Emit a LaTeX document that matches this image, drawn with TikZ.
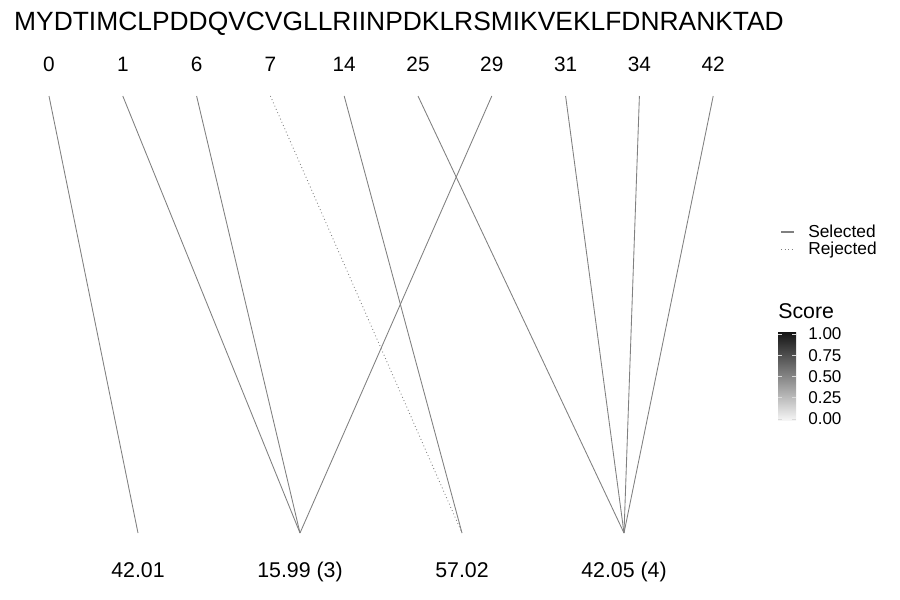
\documentclass[tikz,border=0pt]{standalone}
\usepackage{fontspec}
\setmainfont{Liberation Sans}
\usetikzlibrary{positioning}

\begin{document}
\begin{tikzpicture}[x=0.75pt,y=0.75pt,yscale=-1,xscale=1,
        link/.style={draw=black!50, line width=0.65pt},
        rejlink/.style={link, dotted},
        toplab/.style={anchor=base, inner sep=0.75pt, font=\fontsize{15.6}{18}\selectfont},
        botlab/.style={anchor=base, inner sep=0.75pt, font=\fontsize{16}{19}\selectfont},
        legtext/.style={anchor=base west, inner sep=0.75pt, font=\fontsize{13}{15}\selectfont}]
        \useasboundingbox (0,0) rectangle (900,600);
        % Text Node
        \node[anchor=base, inner sep=0pt, font=\fontsize{19.8}{23}\selectfont] (seq) at (399,30) {MYDTIMCLPDDQVCVGLLRIINPDKLRSMIKVEKLFDNRANKTAD};
        % Text Node
        \foreach \lab [count=\i from 0] in {0,1,6,7,14,25,29,31,34,42} {
            \node[toplab] (n\lab) at (49+73.8*\i,71) {\lab};
            \coordinate (p\lab) at (49+73.8*\i,96);
        }
        % Text Node
        \foreach \lab/\nm [count=\i from 0] in {42.01/a,15.99 (3)/b,57.02/c,42.05 (4)/d} {
            \node[botlab] (m\nm) at (138+162*\i,577) {\lab};
            \coordinate (q\nm) at (138+162*\i,533);
        }
        %Straight Lines
        \draw[link] (p0) -- (qa);
        \draw[link] (p1) -- (qb);
        \draw[link] (p6) -- (qb);
        \draw[link] (p29) -- (qb);
        \draw[rejlink] (p7) -- (qc);
        \draw[link] (p14) -- (qc);
        \draw[link] (p25) -- (qd);
        \draw[link] (p31) -- (qd);
        \draw[link] (p34) -- (qd);
        \draw[link] (p42) -- (qd);
        % Legend
        \coordinate (selA) at (781,232);
        \coordinate (selB) at (794,232);
        \coordinate (rejA) at (781,249);
        \coordinate (rejB) at (794,249);
        \draw[link, line width=1pt] (selA) -- (selB);
        \draw[rejlink] (rejA) -- (rejB);
        \node[legtext] (selected) at (807,237) {Selected};
        \node[legtext] (rejected) at (807,254) {Rejected};
        \node[anchor=base west, inner sep=0pt, font=\fontsize{16}{19}\selectfont] (score) at (778,318) {Score};
        % Colour bar
        \shade[top color=black!92, bottom color=black!4] (778,332) rectangle (796,420);
        \foreach \y/\val in {334/1.00,355.25/0.75,376.5/0.50,397.75/0.25,419/0.00} {
            \draw[white!85!black, line width=0.4pt] (778,\y) -- (781.6,\y) (792.4,\y) -- (796,\y);
            \node[anchor=west, inner sep=0.75pt, font=\fontsize{12.8}{15}\selectfont] at (807,\y) {\val};
        }
\end{tikzpicture}
\end{document}
